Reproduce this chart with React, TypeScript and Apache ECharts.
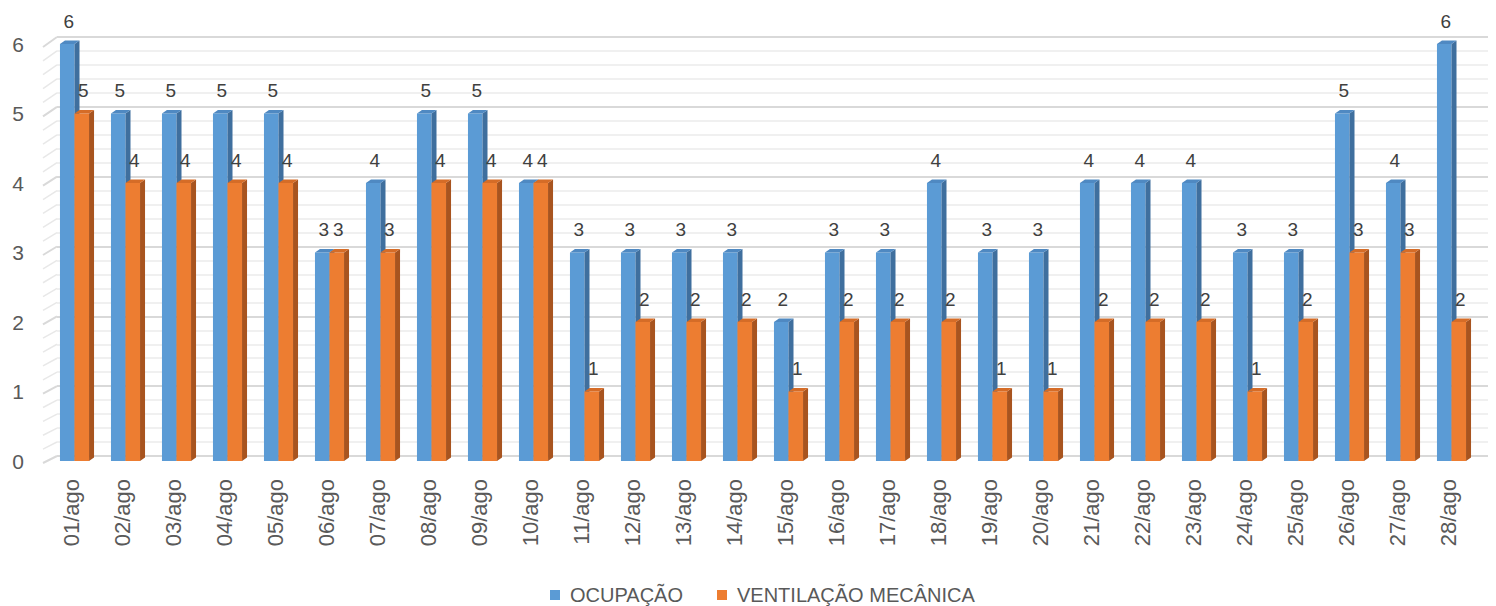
import React, { useEffect, useRef } from "react";
import * as echarts from "echarts";

const categories = [
  "01/ago", "02/ago", "03/ago", "04/ago", "05/ago", "06/ago", "07/ago",
  "08/ago", "09/ago", "10/ago", "11/ago", "12/ago", "13/ago", "14/ago",
  "15/ago", "16/ago", "17/ago", "18/ago", "19/ago", "20/ago", "21/ago",
  "22/ago", "23/ago", "24/ago", "25/ago", "26/ago", "27/ago", "28/ago",
];
const ocupacao = [6, 5, 5, 5, 5, 3, 4, 5, 5, 4, 3, 3, 3, 3, 2, 3, 3, 4, 3, 3, 4, 4, 4, 3, 3, 5, 4, 6];
const ventilacao = [5, 4, 4, 4, 4, 3, 3, 4, 4, 4, 1, 2, 2, 2, 1, 2, 2, 2, 1, 1, 2, 2, 2, 1, 2, 3, 3, 2];
const yTicks = [0, 1, 2, 3, 4, 5, 6];
const seriesNames = ["OCUPAÇÃO", "VENTILAÇÃO MECÂNICA"];

const FONT = "'Liberation Sans', Arial, sans-serif";

const palettes = [
  { front: "#5B9BD5", side: "#3F6F9E", top: "#4F89C2" },
  { front: "#ED7D31", side: "#A8541F", top: "#D56C27" },
];

function makeBarRenderer(idx: number) {
  const pal = palettes[idx];
  return (params: any, api: any) => {
    const cat = api.value(0);
    const val = api.value(1);
    const [cx, yTop] = api.coord([cat, val]);
    const [, y0] = api.coord([cat, 0]);
    const band = api.size([1, 0])[0];
    const w = band * 0.285;
    const dx = 5;
    const dy = 3.5;
    const x0 = cx + 3 - w + idx * w;
    return {
      type: "group",
      children: [
        {
          type: "rect",
          shape: { x: x0, y: yTop, width: w, height: y0 - yTop },
          style: { fill: pal.front },
        },
        {
          type: "polygon",
          shape: {
            points: [
              [x0 + w, yTop],
              [x0 + w + dx, yTop - dy],
              [x0 + w + dx, y0 - dy],
              [x0 + w, y0],
            ],
          },
          style: { fill: pal.side },
        },
        {
          type: "polygon",
          shape: {
            points: [
              [x0, yTop],
              [x0 + dx, yTop - dy],
              [x0 + w + dx, yTop - dy],
              [x0 + w, yTop],
            ],
          },
          style: { fill: pal.top },
        },
        {
          type: "text",
          style: {
            text: String(val),
            x: x0 + w / 2 + 1.5,
            y: yTop - 23,
            fill: "#404040",
            font: `19px ${FONT}`,
            align: "center",
            verticalAlign: "middle",
          },
        },
      ],
    };
  };
}

function wallRenderer(params: any, api: any) {
  const v = api.value(1);
  const n = v < 6 ? 5 : 1;
  const children: any[] = [];
  const xb = params.coordSys.x;
  for (let k = 0; k < n; k++) {
    const vv = v + k * 0.2;
    const [, yb] = api.coord([0, vv]);
    children.push({
      type: "line",
      shape: { x1: xb - 14, y1: yb + 7 + vv * 0.5, x2: xb, y2: yb },
      style: { stroke: k === 0 ? "#d9d9d9" : "#e8e8e8", lineWidth: k === 0 ? 2 : 1.5 },
    });
  }
  return { type: "group", children };
}

export default function App() {
  const ref = useRef<HTMLDivElement>(null);
  useEffect(() => {
    document.body.style.margin = "0";
    if (!ref.current) return;
    const chart = echarts.init(ref.current, null, { renderer: "svg" });
    chart.setOption({
      animation: false,
      backgroundColor: "#ffffff",
      textStyle: { fontFamily: FONT },
      legend: {
        data: seriesNames,
        left: 545,
        top: 580,
        icon: "rect",
        itemWidth: 10,
        itemHeight: 10,
        itemGap: 34,
        textStyle: { fontSize: 20, color: "#595959", fontFamily: FONT, padding: [0, 0, 0, 5] },
      },
      grid: [
        { left: 46, right: 22, top: 44, bottom: 145 },
        { left: 57, right: 8, top: 37, bottom: 150 },
      ],
      xAxis: [
        {
          type: "category",
          gridIndex: 0,
          data: categories,
          axisLine: { show: false },
          axisTick: { show: false },
          splitLine: { show: false },
          axisLabel: { rotate: 90, margin: 18, fontSize: 22, color: "#595959", fontFamily: FONT, interval: 0 },
        },
        { type: "category", gridIndex: 1, data: ["x"], show: false },
      ],
      yAxis: [
        {
          type: "value",
          gridIndex: 0,
          min: 0,
          max: 6,
          interval: 1,
          axisLine: { show: false },
          axisTick: { show: false },
          splitLine: { show: false },
          axisLabel: { fontSize: 21, color: "#595959", margin: 22, fontFamily: FONT, padding: [10, 0, 0, 0] },
        },
        {
          type: "value",
          gridIndex: 1,
          min: 0,
          max: 6,
          interval: 1,
          axisLine: { show: false },
          axisTick: { show: false },
          axisLabel: { show: false },
          splitLine: { show: true, lineStyle: { color: "#d9d9d9", width: 2 } },
          minorTick: { show: false, splitNumber: 5 },
          minorSplitLine: { show: true, lineStyle: { color: "#ebebeb", width: 1.5 } },
        },
      ],
      series: [
        {
          type: "custom",
          name: "wall",
          xAxisIndex: 1,
          yAxisIndex: 1,
          silent: true,
          z: 1,
          renderItem: wallRenderer,
          data: yTicks.map((v) => [0, v]),
          encode: { x: 0, y: 1 },
        },
        {
          type: "custom",
          name: seriesNames[0],
          xAxisIndex: 0,
          yAxisIndex: 0,
          z: 2,
          itemStyle: { color: palettes[0].front },
          renderItem: makeBarRenderer(0),
          data: ocupacao.map((v, i) => [i, v]),
          encode: { x: 0, y: 1 },
        },
        {
          type: "custom",
          name: seriesNames[1],
          xAxisIndex: 0,
          yAxisIndex: 0,
          z: 3,
          itemStyle: { color: palettes[1].front },
          renderItem: makeBarRenderer(1),
          data: ventilacao.map((v, i) => [i, v]),
          encode: { x: 0, y: 1 },
        },
      ],
    });
    return () => chart.dispose();
  }, []);
  return <div ref={ref} style={{ width: 1496, height: 606 }} />;
}
